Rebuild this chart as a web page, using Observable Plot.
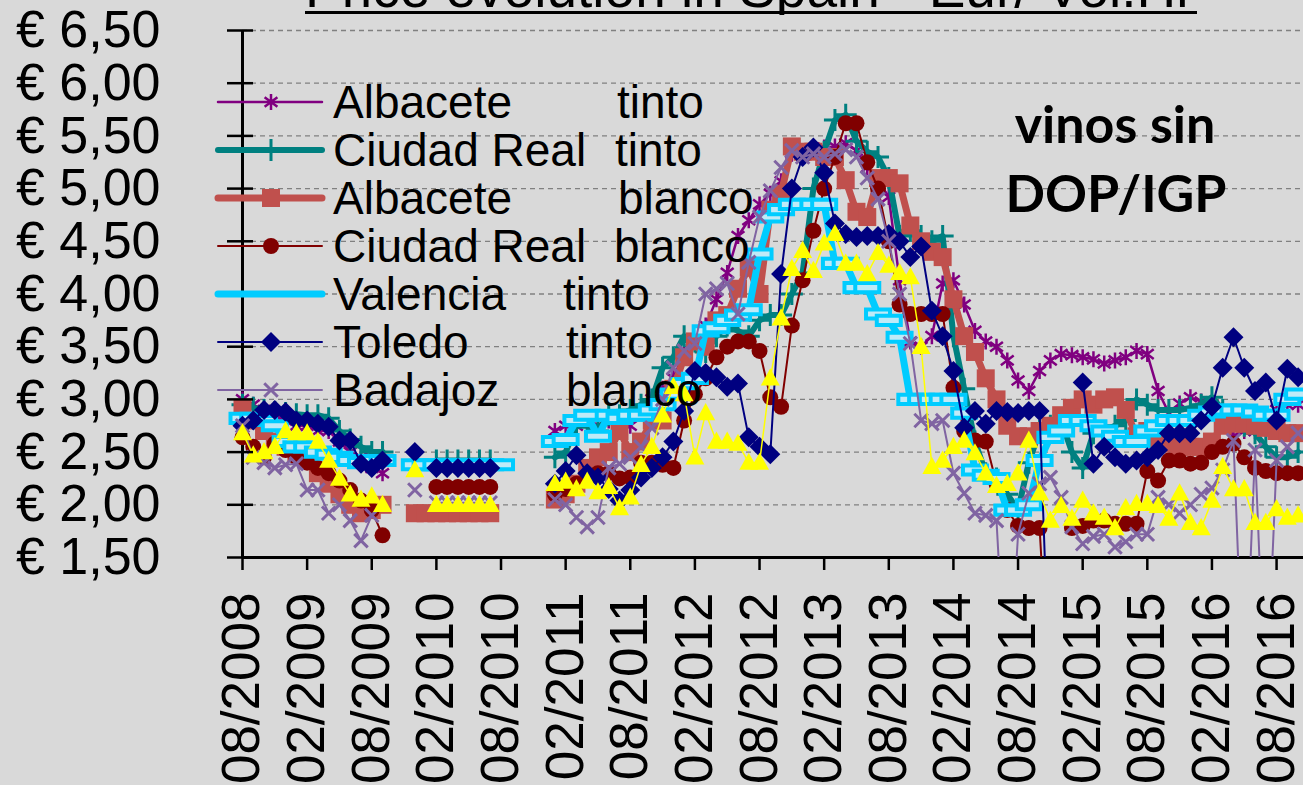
<!DOCTYPE html>
<html><head><meta charset="utf-8">
<script src="https://cdn.jsdelivr.net/npm/d3@7"></script>
<script src="https://cdn.jsdelivr.net/npm/@observablehq/plot@0.6"></script>
<style>
html,body{margin:0;padding:0;background:#d9d9d9;overflow:hidden;}
body{width:1303px;height:785px;position:relative;font-family:"Liberation Sans",Arial,sans-serif;}
#title{position:relative;height:15px;overflow:hidden;}
#title span{position:absolute;left:305px;top:-39px;font-size:55px;line-height:55px;white-space:nowrap;color:#000;}
#title .ul{position:absolute;left:305px;top:11px;width:892px;height:3px;background:#000;}
#chart{position:relative;}
#overlay{position:absolute;left:0;top:0;pointer-events:none;}
</style></head>
<body>
<div id="title"><span>Price evolution in Spain - Eur/ Vol.Hl</span><div class="ul"></div></div>
<div id="chart"></div>
<svg id="overlay" width="1303" height="785"></svg>
<script>
// ---------- DATA ----------
// month index 0 = 08/2008, one value per month (null = no data, 0 = value recorded as zero)
const months = d3.range(99);
const xTickMonths = [0,6,12,18,24,30,36,42,48,54,60,66,72,78,84,90,96];
const tickLabels = ["08/2008","02/2009","08/2009","02/2010","08/2010","02/2011","08/2011","02/2012","08/2012","02/2013","08/2013","02/2014","08/2014","02/2015","08/2015","02/2016","08/2016"];
const yTicks = [1.5,2,2.5,3,3.5,4,4.5,5,5.5,6,6.5];
const N = null;

const albaceteTinto = [
 3.0,2.95,2.9,2.85,2.8,2.75,2.75,2.7,2.7,2.6,2.5,2.45,2.35,2.3,
 N,N,N,N,2.38,2.38,2.38,2.38,2.38,2.38,N,N,N,N,N,
 2.7,2.75,2.75,2.8,2.75,2.8,2.8,2.75,2.9,3.0,3.1,3.2,3.45,3.55,3.7,3.95,4.2,4.55,4.7,4.85,
 4.95,5.07,5.33,5.33,5.35,5.39,5.4,5.43,5.36,5.2,5.08,4.92,4.13,3.55,3.5,3.6,4.1,4.13,3.9,3.65,
 3.55,3.5,3.37,3.18,3.08,3.27,3.37,3.43,3.42,3.4,3.38,3.34,3.37,3.4,3.46,3.43,3.08,2.87,2.96,3.02,
 2.98,2.95,2.9,2.65,2.7,2.7,2.85,2.9,2.95,2.95];
const ciudadRealTinto = [
 2.95,2.92,2.9,2.88,2.87,2.86,2.85,2.85,2.82,2.7,2.62,2.55,2.5,2.5,
 N,N,N,N,2.42,2.42,2.42,2.42,2.42,2.42,N,N,N,N,N,
 2.45,2.5,2.75,2.75,2.7,2.85,2.85,2.9,2.95,3.0,3.3,3.4,3.6,3.55,3.45,3.6,3.7,3.65,3.6,3.75,
 3.8,3.8,4.0,4.2,5.0,5.35,5.65,5.7,5.45,5.35,5.3,5.1,4.55,4.6,4.55,4.5,4.55,3.6,3.1,2.6,
 2.3,2.25,2.1,1.95,2.4,2.7,2.75,2.8,2.5,2.35,2.68,2.7,2.75,2.8,3.0,2.95,2.9,2.9,2.9,2.92,
 2.95,3.02,2.9,2.85,2.75,2.68,2.55,2.45,2.45,2.5];
const albaceteBlanco = [
 2.92,2.8,2.7,2.6,2.55,2.5,2.42,2.3,2.2,2.1,2.0,1.92,1.95,2.0,
 N,N,1.92,1.92,1.92,1.92,1.92,1.92,1.92,1.92,N,N,N,N,N,
 2.05,2.1,2.2,2.35,2.45,2.5,2.7,2.5,2.6,2.8,2.8,3.1,3.4,3.55,3.5,3.75,3.8,4.05,4.25,4.0,
 4.8,4.95,5.4,5.35,5.35,5.3,5.3,5.08,4.78,4.73,5.1,5.1,5.05,4.65,4.5,4.4,4.35,3.95,3.6,3.45,
 3.2,3.0,2.75,2.65,2.65,2.7,2.75,2.85,2.92,3.0,2.95,3.0,3.02,2.9,2.65,2.7,2.6,2.58,2.55,2.55,
 2.55,2.6,2.75,2.77,2.77,2.75,2.73,2.7,2.68,2.68];
const ciudadRealBlanco = [
 2.64,2.55,2.45,2.58,2.52,2.45,2.4,2.35,2.3,2.23,2.14,2.04,1.95,1.71,
 N,N,N,N,2.17,2.17,2.17,2.17,2.17,2.17,N,N,N,N,N,
 2.1,2.15,2.2,2.25,2.3,2.3,2.25,2.26,2.4,2.4,2.38,2.35,2.8,3.05,3.2,3.4,3.5,3.55,3.55,3.46,
 3.02,2.93,3.7,4.13,4.6,5.0,5.3,5.62,5.62,5.25,5.0,4.5,3.9,3.81,3.81,3.81,3.81,3.11,2.7,2.61,
 2.6,2.2,1.95,1.8,1.78,1.78,0,N,1.78,1.8,1.85,1.85,1.82,1.82,1.82,2.32,2.23,2.42,2.42,2.39,
 2.4,2.5,2.55,2.58,2.45,2.35,2.32,2.3,2.3,2.3];
const valenciaTinto = [
 2.82,2.82,2.8,2.75,2.6,2.55,2.55,2.5,2.48,2.45,2.42,2.4,2.42,2.42,
 N,N,2.38,2.38,2.38,2.38,2.38,2.38,2.38,2.38,2.38,N,N,N,N,
 2.6,2.62,2.8,2.85,2.65,2.85,2.82,2.85,2.85,2.9,2.95,3.05,3.15,3.2,3.65,3.68,3.75,3.8,3.85,4.38,
 4.73,4.8,4.85,4.85,4.85,4.85,4.29,4.29,4.06,4.06,3.81,3.75,3.59,3.0,3.0,3.0,3.0,3.0,2.87,2.33,
 2.28,2.25,1.95,1.95,2.0,2.42,2.64,2.7,2.8,2.8,2.75,2.7,2.65,2.6,2.6,2.7,2.75,2.8,2.8,2.8,
 2.85,2.88,2.9,2.9,2.9,2.88,2.85,2.85,3.0,3.05];
const toledoTinto = [
 2.75,2.8,2.9,2.9,2.88,2.8,2.8,2.77,2.74,2.61,2.61,2.39,2.35,2.42,
 N,N,2.5,N,2.35,2.35,2.35,2.35,2.35,2.35,N,N,N,N,N,
 2.2,2.32,2.47,2.3,2.26,2.15,2.04,2.14,2.26,2.35,2.45,2.6,2.89,3.27,3.25,3.21,3.12,3.15,2.64,2.55,
 2.48,4.19,5.0,5.3,5.39,5.15,4.67,4.57,4.54,4.55,4.55,4.57,4.5,4.35,4.45,3.84,3.6,3.27,2.73,2.89,
 2.77,2.89,2.88,2.87,2.89,2.89,0,N,N,3.16,2.39,2.55,2.45,2.39,2.42,2.45,2.52,2.68,2.68,2.68,
 2.8,2.93,3.3,3.59,3.3,3.08,3.16,2.8,3.29,3.21];
const badajozBlanco = [
 2.75,2.45,2.4,2.35,2.38,2.39,2.14,2.14,1.92,2.0,1.85,1.66,1.9,N,
 N,N,2.14,N,2.02,2.02,2.02,2.02,2.02,2.02,N,N,N,N,N,
 2.05,2.0,1.88,1.79,1.88,2.35,2.39,2.45,2.55,2.73,3.0,3.3,3.46,3.53,4.0,4.05,4.1,3.81,4.3,4.73,
 4.98,5.2,5.36,5.3,5.33,5.3,5.33,5.37,5.3,5.1,4.9,4.5,4.0,3.53,2.8,2.77,2.8,2.3,2.11,1.92,
 1.9,1.85,0,1.72,2.11,2.2,2.26,2.07,1.79,1.63,1.7,1.72,1.6,1.65,1.72,1.72,2.07,2.0,1.92,2.0,
 2.1,2.16,2.33,2.61,0,2.52,0,2.42,2.55,2.68];
const otraSerie = [
 2.68,2.47,2.5,2.55,2.7,2.68,2.68,2.6,2.42,2.25,2.1,2.05,2.08,2.0,
 N,N,2.33,N,2.0,2.0,2.0,2.0,2.0,2.0,N,N,N,N,N,
 2.2,2.22,2.15,2.22,2.12,2.17,1.97,2.07,2.38,2.55,2.85,3.12,3.05,2.45,2.87,2.6,2.6,2.58,2.4,2.4,
 3.2,3.77,4.24,4.41,4.22,4.48,4.57,4.29,4.29,4.19,4.39,4.27,4.2,4.16,3.5,2.36,2.42,2.55,2.61,2.49,
 2.3,2.18,2.2,2.3,2.61,2.11,1.85,1.99,1.87,2.04,1.92,1.88,1.78,1.97,2.01,2.01,1.99,1.87,2.11,1.83,
 1.78,2.04,2.36,2.15,2.15,1.83,1.83,1.96,1.88,1.9];

const legendNames = [["Albacete","tinto"],["Ciudad Real","tinto"],["Albacete","blanco"],["Ciudad Real","blanco"],["Valencia","tinto"],["Toledo","tinto"],["Badajoz","blanco"]];

// ---------- SYMBOLS ----------
const sym = fn => ({draw(c, size){ fn(c, Math.sqrt(size/Math.PI)); }});
const starSym = sym((c,r)=>{ c.moveTo(0,-r); c.lineTo(0,r); const a=r*0.8; c.moveTo(-a,-a*0.75); c.lineTo(a,a*0.75); c.moveTo(-a,a*0.75); c.lineTo(a,-a*0.75); });
const plusSym = sym((c,r)=>{ c.moveTo(-r,0); c.lineTo(r,0); c.moveTo(0,-r); c.lineTo(0,r); });
const squareSym = sym((c,r)=>{ c.rect(-r,-r,2*r,2*r); });
const circleSym = sym((c,r)=>{ c.moveTo(r,0); c.arc(0,0,r,0,2*Math.PI); });
const dashSym = sym((c,r)=>{ c.rect(-r,-r*0.38,2*r,r*0.76); });
const diamondSym = sym((c,r)=>{ c.moveTo(0,-r); c.lineTo(r,0); c.lineTo(0,r); c.lineTo(-r,0); c.closePath(); });
const timesSym = sym((c,r)=>{ const a=r*0.75; c.moveTo(-a,-a); c.lineTo(a,a); c.moveTo(-a,a); c.lineTo(a,-a); });
const triSym = sym((c,r)=>{ c.moveTo(0,-r); c.lineTo(r*0.95,r*0.72); c.lineTo(-r*0.95,r*0.72); c.closePath(); });

const series = [
 {values: albaceteTinto, color:"#800080", lw:2.5, symbol:starSym, r:8, fill:"none", stroke:"#800080", sw:2.5, legend:true},
 {values: ciudadRealTinto, color:"#008080", lw:6, symbol:plusSym, r:11, fill:"none", stroke:"#008080", sw:3, legend:true},
 {values: albaceteBlanco, color:"#c0504d", lw:7, symbol:squareSym, r:9, fill:"#c0504d", stroke:"none", sw:0, legend:true},
 {values: ciudadRealBlanco, color:"#800000", lw:2, symbol:circleSym, r:8, fill:"#800000", stroke:"none", sw:0, legend:true},
 {values: valenciaTinto, color:"#00ccff", lw:7, symbol:dashSym, r:12, fill:"#bfeaf7", stroke:"#00ccff", sw:4, legend:true, noLegendMarker:true},
 {values: toledoTinto, color:"#000080", lw:2, symbol:diamondSym, r:10, fill:"#000080", stroke:"none", sw:0, legend:true},
 {values: badajozBlanco, color:"#8064a2", lw:2, symbol:timesSym, r:9, fill:"none", stroke:"#8064a2", sw:3, legend:true},
 {values: otraSerie, color:"#ffff00", lw:1.5, symbol:triSym, r:10, fill:"#ffff00", stroke:"none", sw:0, legend:false}
];

const marks = [
 Plot.gridY(yTicks, {stroke:"#808080", strokeOpacity:1, strokeDasharray:"5,4", strokeWidth:1.3}),
 Plot.ruleX([0], {y1:1.5, y2:6.5, stroke:"#000", strokeWidth:3}),
 Plot.ruleY([1.5], {stroke:"#000", strokeWidth:3})
];
for (const s of series) {
  const rows = s.values.map((v,i)=>({m: months[i], v}));
  marks.push(Plot.line(rows, {x:"m", y:"v", stroke:s.color, strokeWidth:s.lw, clip:true, strokeLinejoin:"round", strokeLinecap:"round"}));
  marks.push(Plot.dot(rows.filter(d => d.v != null && d.v >= 1.5), {x:"m", y:"v", symbol:s.symbol, r:s.r, fill:s.fill, stroke:s.stroke, strokeWidth:s.sw}));
}
marks.push(
 Plot.axisY({ticks:yTicks, label:null, tickSize:0, tickPadding:82, fontSize:52, tickFormat: d => "€ " + d.toFixed(2).replace(".", ",")}),
 Plot.axisY({ticks:yTicks, label:null, tickSize:26, dx:11, strokeWidth:2.5, tickFormat: () => ""}),
 Plot.axisX({ticks:xTickMonths, label:null, tickSize:13, strokeWidth:2.5, tickRotate:-90, tickPadding:22, fontSize:53, tickFormat: d => tickLabels[xTickMonths.indexOf(d)]})
);

const chart = Plot.plot({
  width:1303, height:770,
  marginLeft:242, marginRight:0, marginTop:15, marginBottom:228,
  style:{background:"transparent", fontFamily:"Liberation Sans, Arial, sans-serif", color:"#000", overflow:"visible"},
  x:{domain:[0,98.5], label:null},
  y:{domain:[1.5,6.5], label:null},
  marks
});
document.getElementById("chart").appendChild(chart);

// ---------- LEGEND & NOTE ----------
const ov = d3.select("#overlay");
const rowY = [102,150,198,246,294,342,390];
const col2 = [617,615,618,614,563,566,566];
series.filter(s => s.legend).forEach((s,i) => {
  const y = rowY[i];
  ov.append("line").attr("x1",218).attr("x2",322).attr("y1",y).attr("y2",y)
    .attr("stroke",s.color).attr("stroke-width",s.lw).attr("stroke-linecap","round");
  if (!s.noLegendMarker) {
    const p = d3.path(); s.symbol.draw(p, s.r*s.r*Math.PI);
    ov.append("path").attr("d", p.toString()).attr("transform",`translate(271,${y})`)
      .attr("fill", s.fill).attr("stroke", s.stroke).attr("stroke-width", s.sw);
  }
  const t = ov.append("g").attr("font-family","Liberation Sans, Arial, sans-serif").attr("font-size",46).attr("fill","#000");
  t.append("text").attr("x",333).attr("y",y+16).text(legendNames[i][0]);
  t.append("text").attr("x",col2[i]).attr("y",y+16).text(legendNames[i][1]);
});
const note = ov.append("g").attr("font-family","Lato, 'Open Sans', sans-serif").attr("font-weight","bold").attr("font-size",52).attr("text-anchor","middle").attr("fill","#000");
note.append("text").attr("x",1115).attr("y",143).text("vinos sin");
note.append("text").attr("x",1116).attr("y",212).text("DOP/IGP");
</script>
</body></html>
